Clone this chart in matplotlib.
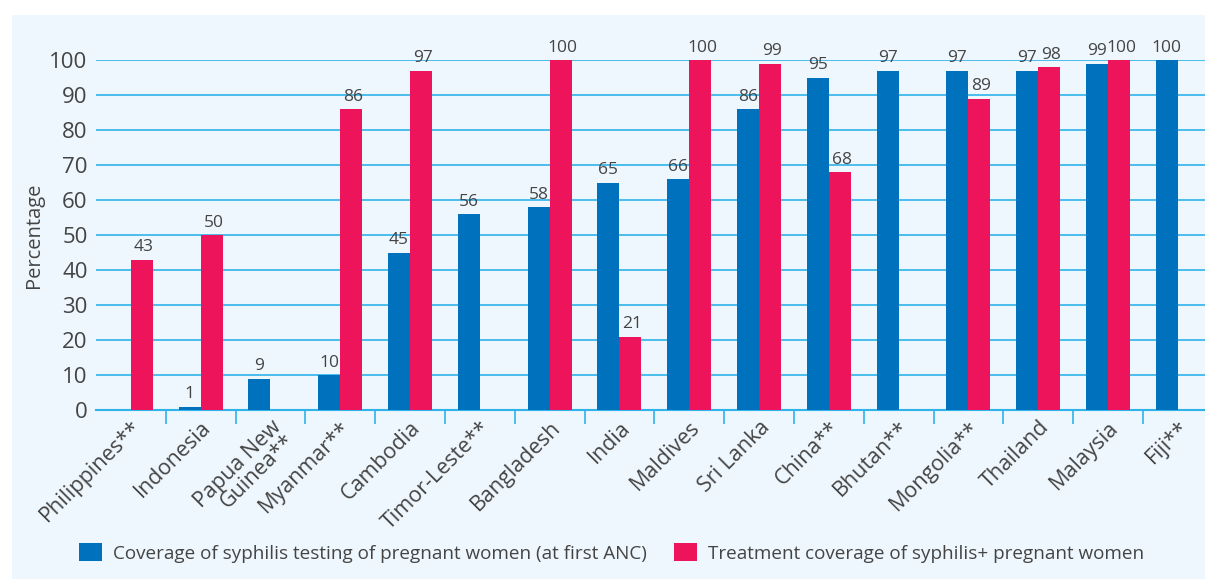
import numpy as np
import matplotlib.pyplot as plt
from matplotlib.patches import Rectangle

countries = ["Philippines**", "Indonesia", "Papua New\nGuinea**", "Myanmar**", "Cambodia",
             "Timor-Leste**", "Bangladesh", "India", "Maldives", "Sri Lanka", "China**",
             "Bhutan**", "Mongolia**", "Thailand", "Malaysia", "Fiji**"]
testing = [np.nan, 1, 9, 10, 45, 56, 58, 65, 66, 86, 95, 97, 97, 97, 99, 100]
treatment = [43, 50, np.nan, 86, 97, np.nan, 100, 21, 100, 99, 68, np.nan, 89, 98, 100, np.nan]

BLUE = "#0071bc"
RED = "#ed145b"
GRID = "#2fb3ea"
TXT = "#444444"

plt.rcParams['font.family'] = ['Open Sans', 'DejaVu Sans']

fig = plt.figure(figsize=(12.05, 5.79), dpi=100, facecolor="white")
fig.patches.append(Rectangle((12 / 1205, 0), 1 - 12 / 1205, 1 - 15 / 579,
                             transform=fig.transFigure, facecolor="#eef7fd",
                             edgecolor="none", zorder=-10))

ax = fig.add_axes([96 / 1205, 169 / 579, 1 - 96 / 1205, 350 / 579])
ax.set_facecolor("none")

x = np.arange(len(countries))
w = 0.315
ax.bar(x - w / 2, testing, width=w, color=BLUE, zorder=3,
       label="Coverage of syphilis testing of pregnant women (at first ANC)")
ax.bar(x + w / 2, treatment, width=w, color=RED, zorder=3,
       label="Treatment coverage of syphilis+ pregnant women")

for xi, v in zip(x, testing):
    if not np.isnan(v):
        ax.text(xi - w / 2, v + 1.2, f"{v:.0f}", ha="center", va="bottom",
                fontsize=12.5, color=TXT, clip_on=False)
for xi, v in zip(x, treatment):
    if not np.isnan(v):
        ax.text(xi + w / 2 + 0.03, v + 1.2, f"{v:.0f}", ha="center", va="bottom",
                fontsize=12.5, color=TXT, clip_on=False)

ax.set_xlim(-0.5, 15.39)
ax.set_ylim(0, 100)
ax.set_yticks(range(0, 101, 10))
ax.tick_params(axis="y", length=0, labelsize=16, labelcolor=TXT, pad=6)
ax.yaxis.grid(True, color=GRID, linewidth=1.2, zorder=0)
for s in ["top", "right", "left"]:
    ax.spines[s].set_visible(False)
ax.spines["bottom"].set_color(GRID)
ax.spines["bottom"].set_linewidth(1.5)

ax.set_xticks(x)
ax.set_xticklabels(countries, rotation=45, ha="right", rotation_mode="anchor",
                   fontsize=15.5, color=TXT, linespacing=0.85)
ax.tick_params(axis="x", length=0, pad=5)
ax.set_xticks(x[:-1] + 0.5, minor=True)
ax.tick_params(axis="x", which="minor", length=10, width=1.2, color=GRID)

ax.set_ylabel("Percentage", fontsize=14.5, color=TXT, labelpad=4)

fig.legend(loc="center", bbox_to_anchor=(0.5075, 26 / 579), ncol=2, frameon=False,
           fontsize=13.6, labelcolor=TXT, handlelength=1.2, handleheight=1.05,
           columnspacing=1.45, handletextpad=0.57)

fig.savefig("out.png", dpi=100, facecolor="white")
